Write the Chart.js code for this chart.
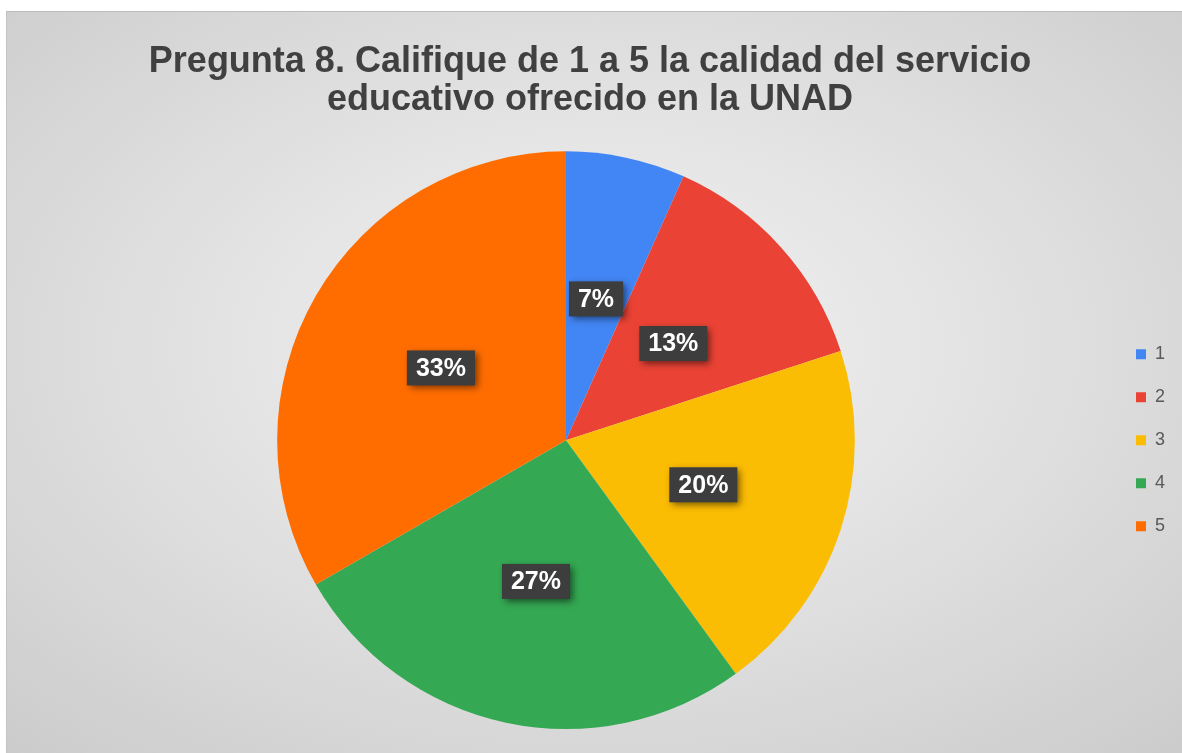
<!DOCTYPE html>
<html>
<head>
<meta charset="utf-8">
<script src="https://cdn.jsdelivr.net/npm/chart.js@4.4.1/dist/chart.umd.min.js"></script>
<style>
  html, body { margin: 0; padding: 0; background: #ffffff; width: 1182px; height: 753px; overflow: hidden; }
  #bg { position: absolute; left: 6px; top: 11px; width: 1180px; height: 745px;
        background: radial-gradient(ellipse 75% 75% at 50% 45%, #f3f3f3 0%, #e2e2e2 45%, #cbcbcb 100%);
        border-top: 1px solid #bcbcbc; border-left: 1px solid #c4c4c4; }
  #wrap { position: absolute; left: 0; top: 0; width: 1182px; height: 753px; }
</style>
</head>
<body>
<div id="bg"></div>
<div id="wrap"><canvas id="c" width="1182" height="753"></canvas></div>
<script>
const categories = ['1', '2', '3', '4', '5'];
const values = [1, 2, 3, 4, 5];
const sliceColors = ['#4285f4', '#ea4335', '#fbbc04', '#34a853', '#ff6d01'];
const titleLines = ['Pregunta 8. Califique de 1 a 5 la calidad del servicio', 'educativo ofrecido en la UNAD'];

const labelBoxes = {
  id: 'labelBoxes',
  afterDatasetsDraw(chart) {
    const ctx = chart.ctx;
    const meta = chart.getDatasetMeta(0);
    const data = chart.data.datasets[0].data;
    const total = data.reduce((a, b) => a + b, 0);
    ctx.save();
    ctx.font = 'bold 25px "Liberation Sans", Arial, sans-serif';
    meta.data.forEach((arc, i) => {
      const p = arc.tooltipPosition();
      const txt = Math.round(data[i] / total * 100) + '%';
      const tw = ctx.measureText(txt).width;
      const w = tw + 18, h = 35;
      const x = p.x - w / 2, y = p.y - h / 2;
      ctx.save();
      ctx.shadowColor = 'rgba(0,0,0,0.55)';
      ctx.shadowBlur = 7;
      ctx.shadowOffsetX = 3;
      ctx.shadowOffsetY = 3;
      ctx.fillStyle = '#3d3d3d';
      ctx.fillRect(x, y, w, h);
      ctx.restore();
      ctx.fillStyle = '#ffffff';
      ctx.textAlign = 'center';
      ctx.textBaseline = 'middle';
      ctx.fillText(txt, p.x, p.y + 1);
    });
    ctx.restore();
  }
};

// widen the legend's clip box after layout so its labels are not cut off
const legendRoom = {
  id: 'legendRoom',
  afterLayout(chart) {
    if (chart.legend) {
      chart.legend.right += 40;
      chart.legend.width += 40;
    }
  }
};

new Chart(document.getElementById('c'), {
  type: 'pie',
  data: {
    labels: categories,
    datasets: [{ data: values, backgroundColor: sliceColors, borderWidth: 0 }]
  },
  options: {
    responsive: false,
    animation: false,
    layout: { padding: { left: 21, right: 23, top: 0, bottom: 24 } },
    plugins: {
      tooltip: { enabled: false },
      title: {
        display: true,
        text: titleLines,
        color: '#404040',
        font: { family: '"Liberation Sans", Arial, sans-serif', size: 36, weight: 'bold', lineHeight: 1.06 },
        padding: { top: 43, bottom: 32 }
      },
      legend: {
        display: true,
        position: 'right',
        fullSize: false,
        maxWidth: 48,
        labels: {
          boxWidth: 10,
          boxHeight: 10,
          padding: 25,
          color: '#595959',
          font: { family: '"Liberation Sans", Arial, sans-serif', size: 18 }
        }
      }
    }
  },
  plugins: [labelBoxes, legendRoom]
});
</script>
</body>
</html>
